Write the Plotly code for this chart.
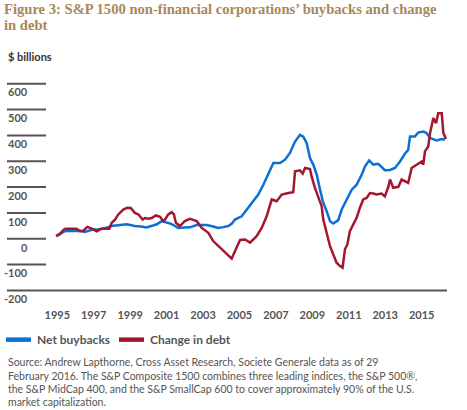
import plotly.graph_objects as go

# Net buybacks ($ billions)
buyback_years = [1994.95, 1995.05, 1995.33, 1995.45, 1995.8, 1996.3, 1996.52, 1996.75, 1996.98,
                 1997.25, 1997.52, 1997.75, 1997.98, 1998.4, 1998.81, 1999.0, 1999.26, 1999.6,
                 1999.9, 2000.2, 2000.46, 2000.73, 2001.0, 2001.19, 2001.37, 2001.64, 2002.0,
                 2002.28, 2002.65, 2002.9, 2003.2, 2003.5, 2003.84, 2004.1, 2004.39, 2004.6,
                 2004.75, 2005.12, 2005.4, 2005.76, 2006.03, 2006.31, 2006.58, 2006.86, 2007.22,
                 2007.5, 2007.77, 2008.05, 2008.32, 2008.5, 2008.69, 2008.87, 2009.05, 2009.24,
                 2009.42, 2009.6, 2009.79, 2009.97, 2010.15, 2010.42, 2010.61, 2010.88, 2011.16,
                 2011.43, 2011.71, 2011.89, 2012.12, 2012.34, 2012.62, 2012.98, 2013.26, 2013.53,
                 2013.81, 2014.08, 2014.26, 2014.36, 2014.63, 2014.81, 2015.09, 2015.27, 2015.46,
                 2015.82, 2016.1, 2016.28]
buybacks = [12, 13, 26, 30, 31, 30, 26, 30, 36,
            36, 39, 44, 49, 54, 56, 53, 49, 47,
            44, 50, 56, 68, 64, 59, 53, 42, 43,
            44, 53, 52, 53, 48, 42, 45, 49, 60,
            74, 87, 113, 145, 171, 209, 248, 293, 293,
            306, 332, 376, 402, 395, 370, 312, 287, 248,
            190, 139, 106, 68, 59, 72, 113, 152, 190,
            209, 248, 280, 303, 287, 290, 265, 266, 274,
            299, 329, 344, 396, 396, 411, 415, 409, 390,
            380, 386, 383]

# Change in debt ($ billions)
debt_years = [1994.93, 1995.15, 1995.37, 1995.45, 1996.06, 1996.25, 1996.43, 1996.65, 1996.89,
              1997.16, 1997.44, 1997.62, 1997.85, 1997.99, 1998.17, 1998.35, 1998.62, 1998.84,
              1999.03, 1999.26, 1999.45, 1999.69, 1999.81, 2000.0, 2000.18, 2000.42, 2000.64,
              2000.82, 2000.91, 2001.09, 2001.28, 2001.4, 2001.51, 2001.73, 2002.0, 2002.28,
              2002.65, 2002.93, 2003.29, 2003.56, 2003.93, 2004.2, 2004.57, 2004.75, 2005.03,
              2005.3, 2005.58, 2005.94, 2006.22, 2006.49, 2006.77, 2007.04, 2007.32, 2007.68,
              2007.95, 2008.05, 2008.32, 2008.47, 2008.6, 2008.87, 2008.96, 2009.14, 2009.33,
              2009.51, 2009.6, 2009.79, 2009.97, 2010.15, 2010.33, 2010.52, 2010.66, 2010.79,
              2010.92, 2011.06, 2011.24, 2011.43, 2011.61, 2011.79, 2011.98, 2012.16, 2012.34,
              2012.53, 2012.8, 2012.98, 2013.17, 2013.26, 2013.44, 2013.72, 2013.9, 2014.08,
              2014.26, 2014.45, 2014.72, 2015.0, 2015.09, 2015.18, 2015.36, 2015.46, 2015.64,
              2015.79, 2015.91, 2016.1, 2016.19, 2016.33]
debt_change = [10, 20, 36, 39, 39, 29, 31, 46, 39,
               29, 39, 38, 39, 62, 74, 94, 113, 120,
               119, 100, 94, 74, 80, 77, 80, 90, 85,
               68, 74, 94, 103, 94, 62, 49, 68, 77,
               68, 42, 23, -9, -35, -54, -77, -48, -5,
               -3, -15, 10, 42, 87, 152, 145, 171, 177,
               180, 261, 265, 252, 274, 270, 241, 197, 164,
               126, 74, 23, -29, -61, -93, -106, -112, -41,
               -22, 29, 55, 81, 120, 152, 158, 177, 175,
               171, 175, 164, 201, 229, 197, 201, 229, 222,
               216, 274, 287, 299, 287, 338, 357, 409, 467,
               447, 486, 486, 409, 386]

year_ticks = [1995, 1997, 1999, 2001, 2003, 2005, 2007, 2009, 2011, 2013, 2015]
y_ticks = [600, 500, 400, 300, 200, 100, 0, -100, -200]
series_names = ["Net buybacks", "Change in debt"]

BLUE = "#0A70D4"
RED = "#A5172E"
GREY = "#555555"
FONT = "Lato"

# plot area in pixels: x 7..447, y 80..293.3
TOP, BOTTOM = 80, 293.3
Y_MIN, Y_MAX = -210, 614.3


def px_x(p):
    return (p - 7) / 440


def px_y(p):
    return (BOTTOM - p) / (BOTTOM - TOP)


def val_y(v):
    # value on the y scale -> paper fraction
    return (v - Y_MIN) / (Y_MAX - Y_MIN)


fig = go.Figure()

# rules: short ones under each label, a full-width one at the bottom value
# (drawn on a hidden 0..1 x axis so they span the plot width)
for v in y_ticks:
    fig.add_trace(go.Scatter(x=[0, 1 if v == y_ticks[-1] else px_x(46)], y=[v, v],
                             xaxis="x2", mode="lines", line=dict(color=GREY, width=2),
                             hoverinfo="skip", showlegend=False, cliponaxis=False))
    fig.add_annotation(xref="paper", yref="paper", x=px_x(30), y=val_y(v - 32),
                       text=f"<b>{v}</b>", xanchor="right", yanchor="middle", showarrow=False,
                       font=dict(family=FONT, size=11, color=GREY))

fig.add_trace(go.Scatter(x=buyback_years, y=buybacks, mode="lines", name=series_names[0],
                         line=dict(color=BLUE, width=2.5)))
fig.add_trace(go.Scatter(x=debt_years, y=debt_change, mode="lines", name=series_names[1],
                         line=dict(color=RED, width=2.5)))

fig.add_annotation(xref="paper", yref="paper", x=px_x(6), y=px_y(56), text="<b>$ billions</b>",
                   xanchor="left", yanchor="middle", showarrow=False,
                   font=dict(family=FONT, size=11, color="#333333"))

# title as two lines
for txt, ypos in [("Figure 3: S&amp;P 1500 non-financial corporations’ buybacks and change", 8.5),
                  ("in debt", 24.5)]:
    fig.add_annotation(xref="paper", yref="paper", x=px_x(2), y=px_y(ypos),
                       text=f"<b>{txt}</b>", xanchor="left", yanchor="middle", showarrow=False,
                       font=dict(family="Liberation Serif", size=14.6, color="#A8875A"))

# legend drawn by hand (swatch + label)
for name, color, x0 in [(series_names[0], BLUE, 6), (series_names[1], RED, 119)]:
    fig.add_shape(type="line", xref="paper", yref="paper", x0=px_x(x0), x1=px_x(x0 + 25),
                  y0=px_y(340), y1=px_y(340), line=dict(color=color, width=4.5))
    fig.add_annotation(xref="paper", yref="paper", x=px_x(x0 + 29), y=px_y(340),
                       text=f"<b>{name}</b>", xanchor="left", yanchor="middle", showarrow=False,
                       font=dict(family=FONT, size=12, color=GREY))

source_lines = [
    "Source: Andrew Lapthorne, Cross Asset Research, Societe Generale data as of 29",
    "February 2016. The S&amp;P Composite 1500 combines three leading indices, the S&amp;P 500®,",
    "the S&amp;P MidCap 400, and the S&amp;P SmallCap 600 to cover approximately 90% of the U.S.",
    "market capitalization.",
]
for i, line in enumerate(source_lines):
    fig.add_annotation(xref="paper", yref="paper", x=px_x(6), y=px_y(362.7 + i * 13.3),
                       text=line, xanchor="left", yanchor="middle", showarrow=False,
                       font=dict(family=FONT, size=10.5, color=GREY))

fig.update_layout(
    width=467, height=410,
    margin=dict(l=7, r=20, t=TOP, b=410 - BOTTOM),
    paper_bgcolor="white", plot_bgcolor="white",
    font=dict(family=FONT, color=GREY),
    showlegend=False,
    xaxis=dict(range=[1992.24, 2016.39], tickvals=year_ticks,
               ticktext=[f"<b>{y}</b>" for y in year_ticks],
               showgrid=False, zeroline=False, showline=False,
               ticks="outside", ticklen=12, tickcolor="rgba(0,0,0,0)",
               tickfont=dict(family=FONT, size=11, color=GREY)),
    xaxis2=dict(range=[0, 1], overlaying="x", visible=False, fixedrange=True),
    yaxis=dict(range=[Y_MIN, Y_MAX], showgrid=False, zeroline=False,
               showline=False, showticklabels=False),
)

fig.write_html("out.html", config={"displayModeBar": False},
               post_script="document.body.style.margin = '0';")
